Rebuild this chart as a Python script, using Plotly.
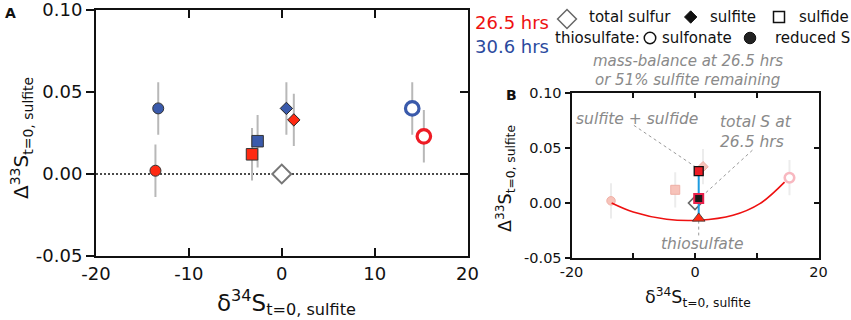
import plotly.graph_objects as go

W, H = 851, 320
FONT = "DejaVu Sans"

# ---------------- data ----------------
# order of points in each series: reduced S (thiosulfate), sulfide, sulfite, sulfonate (thiosulfate)
red_x = [-13.6, -3.2, 1.3, 15.3]          # 26.5 hrs
red_y = [0.002, 0.012, 0.033, 0.023]
red_err = [0.016, 0.016, 0.016, 0.016]
blue_x = [-13.3, -2.6, 0.5, 14.05]        # 30.6 hrs
blue_y = [0.040, 0.020, 0.040, 0.040]
blue_err = [0.016, 0.016, 0.016, 0.016]
total_x = [0.0]                            # total sulfur
total_y = [0.0]

# panel B: mass balance at 26.5 hrs
mb_labels = ["sulfite + sulfide", "total S at 26.5 hrs", "thiosulfate"]
mb_x = [0.6, 0.6, 0.6]
mb_y = [0.029, 0.004, -0.014]
mix_x = [-13.5, -10.0, -4.6, 0.6, 6.15, 10.5, 14.5]
mix_y = [0.000, -0.0082, -0.0148, -0.0157, -0.0112, -0.0006, 0.019]

x_ticks = [-20, -10, 0, 10, 20]
xA_text = ["-20", "-10", "0", "10", "20"]
xB_text = ["-20", "", "0", "", "20"]
y_ticks = [-0.05, 0.0, 0.05, 0.10]
y_text = ["-0.05", "0.00", "0.05", "0.10"]

RED = "#ff2a12"
BLUE = "#3a5aab"
RED_OPEN = "#ee1c25"
ERR = "#b8b8b8"
FADE = "#f7c3ba"
FADE_ERR = "#ececec"
GRAY_TXT = "#8a8a8a"

fig = go.Figure()

def err_trace(x, y, e, color, xa, ya):
    return go.Scatter(x=x, y=y, mode="markers", xaxis=xa, yaxis=ya,
                      marker=dict(size=1, color="rgba(0,0,0,0)"),
                      error_y=dict(type="data", array=e, thickness=2, width=0, color=color),
                      showlegend=False, hoverinfo="skip")

symbols = ["circle", "square", "diamond", "circle"]
sizes = [11, 11.5, 9.5, 13.5]

# ---------- panel A ----------
fig.add_trace(err_trace(red_x, red_y, red_err, ERR, "x", "y"))
fig.add_trace(err_trace(blue_x, blue_y, blue_err, ERR, "x", "y"))
fig.add_trace(go.Scatter(x=total_x, y=total_y, mode="markers", xaxis="x", yaxis="y",
                         marker=dict(symbol="diamond", size=14.5, color="white", opacity=1,
                                     line=dict(color="#777777", width=2)),
                         showlegend=False))
fig.add_trace(go.Scatter(x=red_x, y=red_y, mode="markers", xaxis="x", yaxis="y",
                         marker=dict(symbol=symbols, size=sizes, opacity=1,
                                     color=[RED, RED, RED, "white"],
                                     line=dict(color=["#333", "#333", "#222", RED_OPEN],
                                               width=[1, 1, 1, 3.2])),
                         showlegend=False))
fig.add_trace(go.Scatter(x=blue_x, y=blue_y, mode="markers", xaxis="x", yaxis="y",
                         marker=dict(symbol=symbols, size=sizes, opacity=1,
                                     color=[BLUE, BLUE, BLUE, "white"],
                                     line=dict(color=["#333", "#333", "#222", BLUE],
                                               width=[1, 1, 1, 3.2])),
                         showlegend=False))
fig.add_trace(go.Scatter(x=[], y=[], xaxis="x", yaxis="y3", showlegend=False))

# ---------- panel B ----------
fig.add_trace(err_trace(red_x, red_y, red_err, FADE_ERR, "x2", "y2"))
fig.add_trace(go.Scatter(x=red_x, y=red_y, mode="markers", xaxis="x2", yaxis="y2",
                         marker=dict(symbol=symbols, size=[8.5, 9, 8, 9.5], opacity=1,
                                     color=[FADE, FADE, FADE, "white"],
                                     line=dict(color=["#f0b2a8", "#eeb0a6", "#eeb0a6", "#f8b8c0"],
                                               width=[1, 1, 1, 2.6])),
                         showlegend=False))
fig.add_trace(go.Scatter(x=mix_x, y=mix_y, mode="lines", xaxis="x2", yaxis="y2",
                         line=dict(color="#ee1111", width=1.6, shape="spline"),
                         showlegend=False))
fig.add_trace(go.Scatter(x=total_x, y=total_y, mode="markers", xaxis="x2", yaxis="y2",
                         marker=dict(symbol="diamond", size=10, color="white", opacity=1,
                                     line=dict(color="#666666", width=1.6)),
                         showlegend=False))
fig.add_trace(go.Scatter(x=[mb_x[0], mb_x[2]], y=[mb_y[0], mb_y[2]], mode="lines",
                         xaxis="x2", yaxis="y2",
                         line=dict(color="#1e9be0", width=2), showlegend=False))
fig.add_trace(go.Scatter(x=mb_x, y=mb_y, mode="markers", xaxis="x2", yaxis="y2",
                         marker=dict(symbol=["square", "square", "triangle-up"],
                                     size=[9, 9, 11], opacity=1,
                                     color=["#ee1c25", "#1a1a1a", "#ff2a12"],
                                     line=dict(color=["#111", "#e8204a", "#333"],
                                               width=[1.3, 2, 0.8])),
                         showlegend=False))
fig.add_trace(go.Scatter(x=[], y=[], xaxis="x2", yaxis="y4", showlegend=False))

# ---------- legend symbols (pixel overlay) ----------
leg_sym_x = [567, 690.7, 779, 650, 750]
leg_sym_y = [19, 17, 17, 38, 38]
fig.add_trace(go.Scatter(x=leg_sym_x, y=leg_sym_y, mode="markers", xaxis="x5", yaxis="y5",
                         marker=dict(symbol=["diamond", "diamond", "square", "circle", "circle"],
                                     size=[14.5, 9.5, 11, 11.5, 11.5], opacity=1,
                                     color=["white", "#111", "white", "white", "#222"],
                                     line=dict(color=["#666", "#111", "#111", "#111", "#111"],
                                               width=[1.5, 1, 1.5, 1.5, 1])),
                         showlegend=False, hoverinfo="skip"))

# ---------- connectors in B ----------
conn = [((-9.9, 0.0706), (0.3, 0.032)),
        ((9.3, 0.048), (1.0, 0.0055)),
        ((0.6, -0.016), (0.6, -0.0295))]
shapes = []
for (x0, y0), (x1, y1) in conn:
    shapes.append(dict(type="line", xref="x2", yref="y2", x0=x0, y0=y0, x1=x1, y1=y1,
                       line=dict(color="#9a9a9a", width=1, dash="dot"), layer="below"))
shapes.append(dict(type="line", xref="x domain", yref="y", x0=0, x1=1, y0=0, y1=0,
                   line=dict(color="#111", width=1.5, dash="2px,2px"), layer="below"))

ann = []
def pa(x, y, text, size, color="#111", xanchor="center", angle=0, yanchor="middle"):
    ann.append(dict(x=x, y=y, xref="x5", yref="y5", text=text, showarrow=False,
                    xanchor=xanchor, yanchor=yanchor, textangle=angle,
                    font=dict(family=FONT, size=size, color=color)))

pa(10, 13, "<b>A</b>", 14)
pa(511.7, 95, "<b>B</b>", 14)
pa(472.7, 22, "26.5 hrs", 18, "#ee1111", "left")
pa(472.7, 46.7, "30.6 hrs", 18, "#2b4a9e", "left")
pa(587, 17, "total sulfur", 15, "#111", "left")
pa(708, 17, "sulfite", 15, "#111", "left")
pa(797, 17, "sulfide", 15, "#111", "left")
pa(553, 38, "thiosulfate:", 15, "#111", "left")
pa(660, 38, "sulfonate", 15, "#111", "left")
pa(773, 38, "reduced S", 15, "#111", "left")
pa(687.7, 61, "<i>mass-balance at 26.5 hrs</i>", 15, GRAY_TXT)
pa(687.7, 80, "<i>or 51% sulfite remaining</i>", 15, GRAY_TXT)
pa(286, 302, "δ<sup>34</sup>S<sub>t=0, sulfite</sub>", 23)
pa(21, 138, "Δ<sup>33</sup>S<sub>t=0, sulfite</sub>", 20, angle=-90)
pa(697.5, 297, "δ<sup>34</sup>S<sub>t=0, sulfite</sub>", 17.5)
pa(505, 179, "Δ<sup>33</sup>S<sub>t=0, sulfite</sub>", 17.5, angle=-90)

def da(x, y, text, xanchor="center"):
    ann.append(dict(x=x, y=y, xref="x2", yref="y2", text=text, showarrow=False,
                    xanchor=xanchor, yanchor="middle",
                    font=dict(family=FONT, size=15.5, color=GRAY_TXT)))

da(-9.4, 0.0767, "<i>sulfite + sulfide</i>")
ann.append(dict(x=3.8, y=0.065, xref="x2", yref="y2", text="<i>total S at<br>26.5 hrs</i>",
                showarrow=False, xanchor="left", yanchor="middle", align="left",
                font=dict(family=FONT, size=15.5, color=GRAY_TXT)))
da(1.2, -0.0375, "<i>thiosulfate</i>")

def xax(domain, anchor, ticktext, ticklen, fsize):
    return dict(domain=domain, anchor=anchor, range=[-20, 20], tickvals=x_ticks,
                ticktext=ticktext, ticks="inside", ticklen=ticklen, tickwidth=1.5,
                showline=True, linewidth=2, linecolor="#111", mirror="ticks",
                showgrid=False, zeroline=False, tickcolor="#111", automargin=False,
                ticklabeloverflow="allow",
                tickfont=dict(family=FONT, size=fsize, color="#111"))

def yax(domain, anchor, ticklen, fsize):
    return dict(domain=domain, anchor=anchor, range=[-0.05, 0.10], tickvals=y_ticks,
                ticktext=y_text, ticks="outside", ticklen=ticklen, tickwidth=1.5,
                showline=True, linewidth=2, linecolor="#111", mirror=True,
                showgrid=False, zeroline=False, tickcolor="#111", automargin=False,
                ticklabeloverflow="allow",
                tickfont=dict(family=FONT, size=fsize, color="#111"))

def yov(over, anchor, ticklen):
    return dict(overlaying=over, anchor=anchor, side="right", range=[-0.05, 0.10],
                tickvals=y_ticks, ticks="inside", ticklen=ticklen, tickwidth=1.5,
                tickcolor="#111", showticklabels=False, showline=False, automargin=False,
                showgrid=False, zeroline=False)

fig.update_layout(
    template="none",
    width=W, height=H, margin=dict(l=0, r=0, t=0, b=0, pad=0), autosize=False,
    paper_bgcolor="white", plot_bgcolor="rgba(0,0,0,0)",
    xaxis=xax([96 / W, 467.5 / W], "y", xA_text, 8, 18),
    yaxis=yax([1 - 256 / H, 1 - 10 / H], "x", 8, 18),
    yaxis3=yov("y", "x", 8),
    xaxis2=xax([571.5 / W, 818.5 / W], "y2", xB_text, 5, 14.5),
    yaxis2=yax([1 - 258 / H, 1 - 93 / H], "x2", 5, 14.5),
    yaxis4=yov("y2", "x2", 5),
    xaxis5=dict(domain=[0, 1], range=[0, W], visible=False, anchor="y5", automargin=False),
    yaxis5=dict(domain=[0, 1], range=[H, 0], visible=False, anchor="x5", automargin=False),
    shapes=shapes, annotations=ann, showlegend=False,
    font=dict(family=FONT),
)

fig.write_html("out.html", config={"displayModeBar": False},
               post_script="document.body.style.margin='0';document.body.style.padding='0';document.body.style.overflow='hidden';")
